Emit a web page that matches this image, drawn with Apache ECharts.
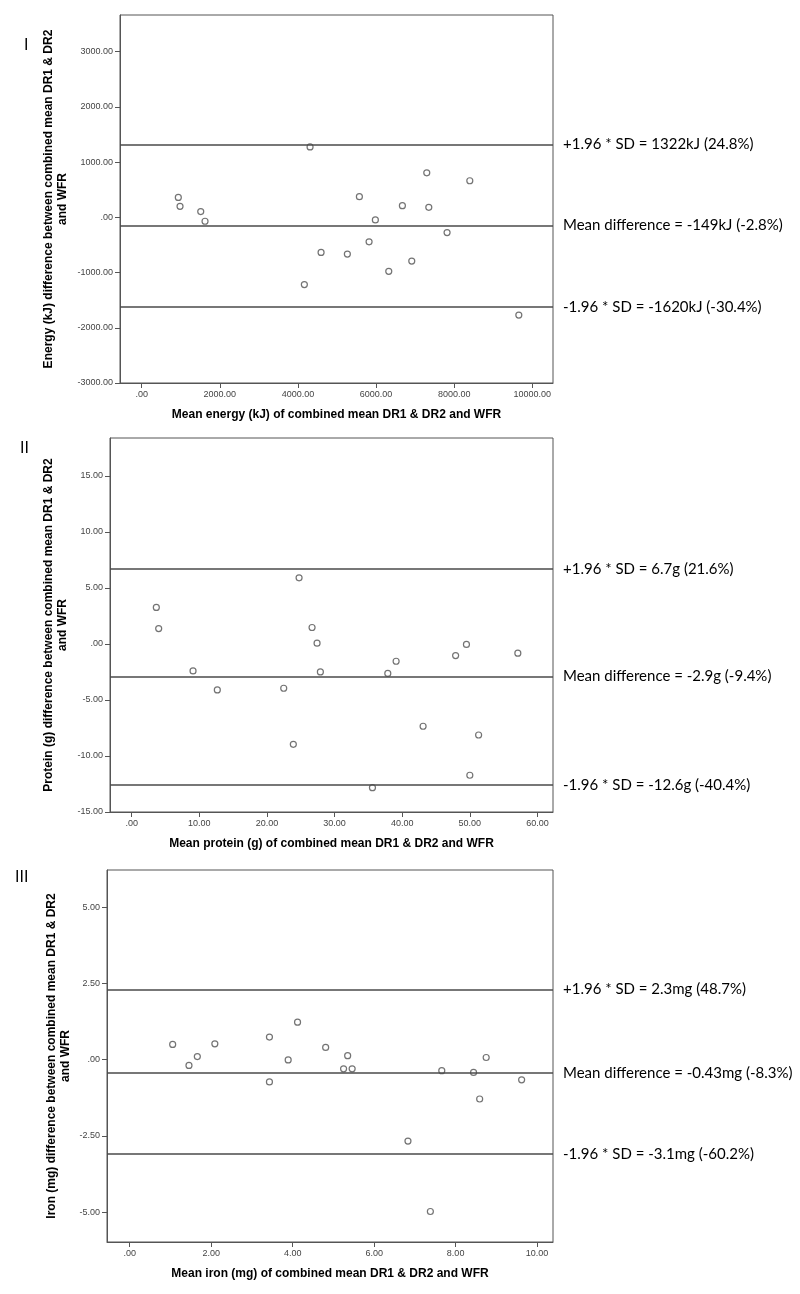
<!DOCTYPE html>
<html><head><meta charset="utf-8">
<script src="https://cdn.jsdelivr.net/npm/echarts@6/dist/echarts.min.js"></script>
<style>html,body{margin:0;padding:0;background:#fff}#c{width:800px;height:1294px}</style>
</head><body><div id="c"></div>
<script>
// ---- Panel I: Energy ----
const energyMean = [937, 981, 1511, 1621, 4164, 4310, 4592, 5265, 5573, 5821, 5982, 6325, 6674, 6914, 7298, 7350, 7818, 8400, 9655];
const energyDiff = [360, 198, 103, -72, -1218, 1274, -636, -666, 373, -444, -47, -978, 211, -793, 805, 180, -276, 661, -1771];
const energyLimits = [1322, -149, -1620];
const energyLimitLabels = ['+1.96 * SD = 1322kJ (24.8%)', 'Mean difference = -149kJ (-2.8%)', '-1.96 * SD = -1620kJ (-30.4%)'];
const energyXTicks = [0, 2000, 4000, 6000, 8000, 10000];
const energyYTicks = [-3000, -2000, -1000, 0, 1000, 2000, 3000];

// ---- Panel II: Protein ----
const proteinMean = [3.64, 3.99, 9.07, 12.66, 22.48, 23.9, 24.75, 26.67, 27.41, 27.9, 35.6, 37.87, 39.1, 43.09, 47.9, 49.5, 50.0, 51.3, 57.1];
const proteinDiff = [3.25, 1.37, -2.41, -4.11, -3.96, -8.96, 5.89, 1.46, 0.06, -2.5, -12.83, -2.64, -1.55, -7.35, -1.04, -0.05, -11.72, -8.13, -0.83];
const proteinLimits = [6.7, -2.9, -12.6];
const proteinLimitLabels = ['+1.96 * SD = 6.7g (21.6%)', 'Mean difference = -2.9g (-9.4%)', '-1.96 * SD = -12.6g (-40.4%)'];
const proteinXTicks = [0, 10, 20, 30, 40, 50, 60];
const proteinYTicks = [-15, -10, -5, 0, 5, 10, 15];

// ---- Panel III: Iron ----
const ironMean = [1.055, 1.455, 1.66, 2.09, 3.43, 3.43, 3.89, 4.12, 4.81, 5.25, 5.35, 5.46, 6.83, 7.38, 7.66, 8.44, 8.59, 8.75, 9.62];
const ironDiff = [0.50, -0.19, 0.10, 0.52, 0.74, -0.73, -0.01, 1.23, 0.40, -0.30, 0.13, -0.30, -2.67, -4.98, -0.36, -0.42, -1.29, 0.07, -0.66];
const ironLimits = [2.3, -0.43, -3.1];
const ironLimitLabels = ['+1.96 * SD = 2.3mg (48.7%)', 'Mean difference = -0.43mg (-8.3%)', '-1.96 * SD = -3.1mg (-60.2%)'];
const ironXTicks = [0, 2, 4, 6, 8, 10];
const ironYTicks = [-5, -2.5, 0, 2.5, 5];

const panelLabels = ['I', 'II', 'III'];
const xTitles = [
  'Mean energy (kJ) of combined mean DR1 & DR2 and WFR',
  'Mean protein (g) of combined mean DR1 & DR2 and WFR',
  'Mean iron (mg) of combined mean DR1 & DR2 and WFR'
];
const yTitles = [
  'Energy (kJ) difference between combined mean DR1 & DR2\nand WFR',
  'Protein (g) difference between combined mean DR1 & DR2\nand WFR',
  'Iron (mg) difference between combined mean DR1 & DR2\nand WFR'
];

function fmt(v) {
  if (Math.abs(v) < 1e-9) return '.00';
  return v.toFixed(2);
}
const AX = '#555';
const LBL = '#444';
const FONT = 'Liberation Sans, Arial, sans-serif';

const panels = [
  {mx: energyMean, dy: energyDiff, lim: energyLimits, limL: energyLimitLabels, xt: energyXTicks, yt: energyYTicks,
   grid: {left: 120, top: 15, width: 433, height: 368}, x: [-556, 10530], y: [-3000, 3662], yGap: 50},
  {mx: proteinMean, dy: proteinDiff, lim: proteinLimits, limL: proteinLimitLabels, xt: proteinXTicks, yt: proteinYTicks,
   grid: {left: 110, top: 438, width: 443, height: 374}, x: [-3.21, 62.3], y: [-15, 18.37], yGap: 40},
  {mx: ironMean, dy: ironDiff, lim: ironLimits, limL: ironLimitLabels, xt: ironXTicks, yt: ironYTicks,
   grid: {left: 107, top: 870, width: 446, height: 372}, x: [-0.557, 10.39], y: [-5.98, 6.22], yGap: 34}
];

const option = {
  animation: false,
  backgroundColor: '#fff',
  title: panelLabels.map((t, i) => ({
    text: t, left: [19, 15, 10][i], top: [33, 436, 865][i],
    textStyle: {fontFamily: FONT, fontSize: 16, fontWeight: 'normal', color: '#000'}
  })),
  grid: panels.map(p => Object.assign({show: true, borderColor: AX, borderWidth: 1, backgroundColor: '#fff'}, p.grid)),
  xAxis: panels.map((p, i) => ({
    type: 'value', gridIndex: i, min: p.x[0], max: p.x[1],
    name: xTitles[i], nameLocation: 'middle', nameGap: 26, nameMoveOverlap: false,
    nameTextStyle: {fontFamily: FONT, fontWeight: 'bold', fontSize: 12, color: '#000'},
    axisLine: {show: true, onZero: false, lineStyle: {color: AX, width: 1}},
    axisTick: {show: true, length: 5, customValues: p.xt, lineStyle: {color: AX}},
    axisLabel: {customValues: p.xt, formatter: fmt, fontFamily: FONT, fontSize: 9, color: LBL, margin: 7},
    splitLine: {show: false}
  })),
  yAxis: panels.map((p, i) => ({
    type: 'value', gridIndex: i, min: p.y[0], max: p.y[1],
    name: yTitles[i], nameLocation: 'middle', nameGap: p.yGap, nameMoveOverlap: false,
    nameTextStyle: {fontFamily: FONT, fontWeight: 'bold', fontSize: 12, color: '#000', lineHeight: 14, align: 'center'},
    axisLine: {show: true, onZero: false, lineStyle: {color: AX, width: 1}},
    axisTick: {show: true, length: 5, customValues: p.yt, lineStyle: {color: AX}},
    axisLabel: {customValues: p.yt, formatter: fmt, fontFamily: FONT, fontSize: 9, color: LBL, margin: 7},
    splitLine: {show: false}
  })),
  series: panels.map((p, i) => ({
    type: 'scatter', xAxisIndex: i, yAxisIndex: i, clip: false,
    symbol: 'circle', symbolSize: 6,
    itemStyle: {color: 'rgba(255,255,255,0)', borderColor: '#505050', borderWidth: 1.2},
    data: p.mx.map((v, k) => [v, p.dy[k]]),
    markLine: {
      silent: true, symbol: ['none', 'none'], animation: false,
      lineStyle: {type: 'solid', color: '#4a4a4a', width: 1.5},
      label: {show: true, position: 'end', formatter: '{b}', distance: 10,
              fontFamily: 'Lato, Carlito, sans-serif', fontSize: 15, color: '#000'},
      emphasis: {disabled: true},
      data: p.lim.map((v, k) => ({name: p.limL[k], yAxis: v}))
    }
  }))
};
const chart = echarts.init(document.getElementById('c'), null, {renderer: 'canvas'});
chart.setOption(option);
</script></body></html>
